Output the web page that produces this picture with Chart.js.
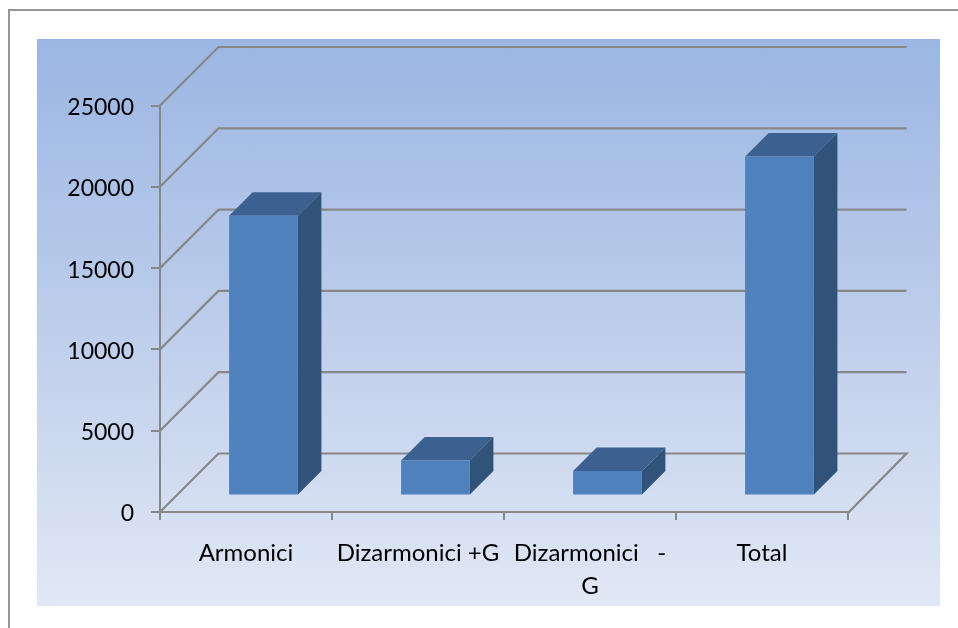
<!DOCTYPE html>
<html>
<head>
<meta charset="utf-8">
<script src="https://cdn.jsdelivr.net/npm/chart.js@4"></script>
<style>
    html, body { margin: 0; padding: 0; background: #fff; overflow: hidden; }
    #frame { position: absolute; left: 8px; top: 9px; width: 950px; height: 619px;
             border-top: 2px solid #969696; border-left: 2px solid #969696; }
    #chart { position: absolute; left: 37px; top: 39px;
             background: linear-gradient(to bottom, #9bb6e3 0%, #bdcdeb 50%, #e1e8f5 100%); }
</style>
</head>
<body>
<div id="frame"></div>
<canvas id="chart" width="903" height="567"></canvas>
<script>
var categories = ['Armonici', 'Dizarmonici +G', ['Dizarmonici   -', 'G'], 'Total'];
var seriesValues = [17200, 2150, 1500, 20850];
var yTicks = [0, 5000, 10000, 15000, 20000, 25000];

var axisColor = '#878787';
var labelFont = { family: 'Lato', size: 24, lineHeight: 1.36 };

// fake 3D: depth of the walls and of the bars, in pixels
var wallDepth = { x: 58.5, y: 58.5 };
var barDepth = { x: 23.5, y: 23.5 };
var barShift = { x: 17.5, y: 16.5 };

var box3d = {
    id: 'box3d',
    beforeDatasetsDraw: function(chart) {
        var ctx = chart.ctx;
        var area = chart.chartArea;
        var yScale = chart.scales.y;

        ctx.save();
        ctx.strokeStyle = axisColor;
        ctx.lineWidth = 2.2;
        yTicks.forEach(function(value) {
            var y = yScale.getPixelForValue(value);
            ctx.beginPath();
            ctx.moveTo(area.left, y);
            ctx.lineTo(area.left + wallDepth.x, y - wallDepth.y);
            ctx.lineTo(area.right + wallDepth.x, y - wallDepth.y);
            if (value === 0) ctx.lineTo(area.right, y + 1);
            ctx.stroke();
        });

        chart.getDatasetMeta(0).data.forEach(function(bar) {
            var left = bar.x - bar.width / 2 + barShift.x;
            var right = bar.x + bar.width / 2 + barShift.x;
            var top = bar.y - barShift.y;
            var bottom = bar.base - barShift.y;

            ctx.fillStyle = '#3c6190';
            ctx.beginPath();
            ctx.moveTo(left, top);
            ctx.lineTo(left + barDepth.x, top - barDepth.y);
            ctx.lineTo(right + barDepth.x, top - barDepth.y);
            ctx.lineTo(right, top);
            ctx.closePath();
            ctx.fill();

            ctx.fillStyle = '#315279';
            ctx.beginPath();
            ctx.moveTo(right, top);
            ctx.lineTo(right + barDepth.x, top - barDepth.y);
            ctx.lineTo(right + barDepth.x, bottom - barDepth.y);
            ctx.lineTo(right, bottom);
            ctx.closePath();
            ctx.fill();
        });
        ctx.restore();

        // the front faces are drawn by the library, moved off the axis
        ctx.save();
        ctx.translate(barShift.x, -barShift.y);
    },
    afterDatasetsDraw: function(chart) {
        chart.ctx.restore();
    }
};

new Chart(document.getElementById('chart').getContext('2d'), {
    type: 'bar',
    data: {
        labels: categories,
        datasets: [{
            data: seriesValues,
            backgroundColor: '#4f81bd',
            barPercentage: 0.4,
            categoryPercentage: 1,
            clip: false
        }]
    },
    plugins: [box3d],
    options: {
        responsive: false,
        animation: false,
        layout: { padding: { left: 0, right: 92, top: 66.5, bottom: 0 } },
        plugins: { legend: { display: false }, tooltip: { enabled: false } },
        scales: {
            x: {
                afterFit: function(scale) { scale.height = 94; },
                border: { color: axisColor, width: 2 },
                grid: { offset: true, drawOnChartArea: false, color: axisColor, lineWidth: 2, tickLength: 8 },
                ticks: { color: '#000', font: labelFont, padding: 17, autoSkip: false, maxRotation: 0 }
            },
            y: {
                min: 0,
                max: 25000,
                afterFit: function(scale) { scale.width = 123; },
                afterBuildTicks: function(scale) {
                    scale.ticks = yTicks.map(function(v) { return { value: v }; });
                },
                border: { color: axisColor, width: 2 },
                grid: { drawOnChartArea: false, color: axisColor, lineWidth: 2, tickLength: 9 },
                ticks: {
                    color: '#000',
                    font: { family: 'Lato', size: 23 },
                    padding: 17,
                    labelOffset: 2,
                    callback: function(value) { return String(value); }
                }
            }
        }
    }
});
</script>
</body>
</html>
